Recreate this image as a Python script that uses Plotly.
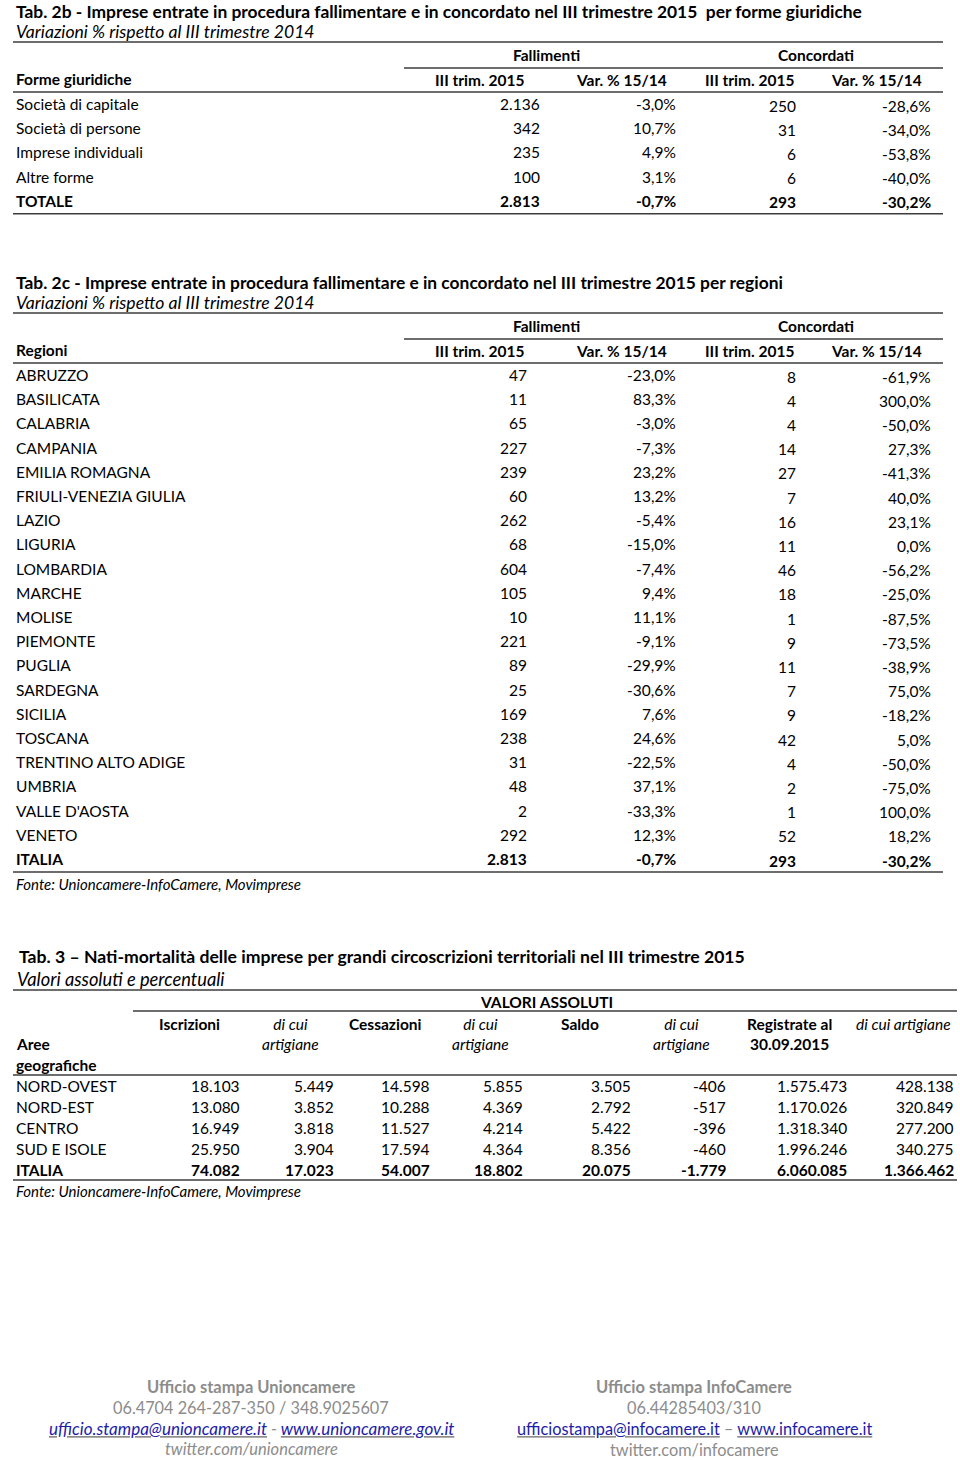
import plotly.graph_objects as go

# ---------------- DATA ----------------
# Tab. 2b
forme = ["Società di capitale", "Società di persone", "Imprese individuali", "Altre forme", "TOTALE"]
forme_fall = [2136, 342, 235, 100, 2813]
forme_fall_var = [-3.0, 10.7, 4.9, 3.1, -0.7]
forme_conc = [250, 31, 6, 6, 293]
forme_conc_var = [-28.6, -34.0, -53.8, -40.0, -30.2]

# Tab. 2c
regioni = ["ABRUZZO", "BASILICATA", "CALABRIA", "CAMPANIA", "EMILIA ROMAGNA",
           "FRIULI-VENEZIA GIULIA", "LAZIO", "LIGURIA", "LOMBARDIA", "MARCHE",
           "MOLISE", "PIEMONTE", "PUGLIA", "SARDEGNA", "SICILIA", "TOSCANA",
           "TRENTINO ALTO ADIGE", "UMBRIA", "VALLE D'AOSTA", "VENETO", "ITALIA"]
reg_fall = [47, 11, 65, 227, 239, 60, 262, 68, 604, 105, 10, 221, 89, 25, 169, 238, 31, 48, 2, 292, 2813]
reg_fall_var = [-23.0, 83.3, -3.0, -7.3, 23.2, 13.2, -5.4, -15.0, -7.4, 9.4, 11.1, -9.1,
                -29.9, -30.6, 7.6, 24.6, -22.5, 37.1, -33.3, 12.3, -0.7]
reg_conc = [8, 4, 4, 14, 27, 7, 16, 11, 46, 18, 1, 9, 11, 7, 9, 42, 4, 2, 1, 52, 293]
reg_conc_var = [-61.9, 300.0, -50.0, 27.3, -41.3, 40.0, 23.1, 0.0, -56.2, -25.0, -87.5, -73.5,
                -38.9, 75.0, -18.2, 5.0, -50.0, -75.0, 100.0, 18.2, -30.2]

# Tab. 3
aree = ["NORD-OVEST", "NORD-EST", "CENTRO", "SUD E ISOLE", "ITALIA"]
iscrizioni = [18103, 13080, 16949, 25950, 74082]
iscr_art = [5449, 3852, 3818, 3904, 17023]
cessazioni = [14598, 10288, 11527, 17594, 54007]
cess_art = [5855, 4369, 4214, 4364, 18802]
saldo = [3505, 2792, 5422, 8356, 20075]
saldo_art = [-406, -517, -396, -460, -1779]
registrate = [1575473, 1170026, 1318340, 1996246, 6060085]
reg_art = [428138, 320849, 277200, 340275, 1366462]

# Header labels
hdr_fall = "Fallimenti"
hdr_conc = "Concordati"
hdr_cols = ["III trim. 2015", "Var. % 15/14", "III trim. 2015", "Var. % 15/14"]
t3_hdr = ["<b>Iscrizioni</b>", "<i>di cui</i><br><i>artigiane</i>", "<b>Cessazioni</b>",
          "<i>di cui</i><br><i>artigiane</i>", "<b>Saldo</b>", "<i>di cui</i><br><i>artigiane</i>",
          "<b>Registrate al</b><br><b>30.09.2015</b>", "<i>di cui artigiane</i>"]


def fmt_int(v):
    s = f"{abs(v):,}".replace(",", ".")
    return ("-" if v < 0 else "") + s


def fmt_pct(v):
    return f"{v:.1f}".replace(".", ",") + "%"


# ---------------- FIGURE ----------------
FONT = "Lato, Carlito, Calibri, sans-serif"
FS = 15.5
LINE = "#3c3c3c"
GRAY = "#8c8c8c"
LINK = "#1c1ca8"

fig = go.Figure()
ann = []
shapes = []


def txt(x, y, t, anchor="left", bold=False, italic=False, size=FS, color="black"):
    if bold:
        t = f"<b>{t}</b>"
    if italic:
        t = f"<i>{t}</i>"
    ann.append(dict(x=x, y=y, xref="x", yref="y", text=t, showarrow=False,
                    xanchor=anchor, yanchor="middle", align=anchor if anchor != "center" else "center",
                    font=dict(family=FONT, size=size, color=color)))


def hline(x0, x1, y, w=1.5):
    shapes.append(dict(type="line", xref="x", yref="y", x0=x0, x1=x1, y0=y, y1=y,
                       line=dict(color=LINE, width=w)))


def fall_conc_table(top, title, label, names, f, fv, c, cv, right_fall, source=False):
    txt(14, top - 0.5, title, bold=True, size=17.4)
    txt(14, top + 19.5, "Variazioni % rispetto al III trimestre 2014", italic=True, size=17.6)
    hline(13, 943, top + 30)
    txt(546, top + 43, hdr_fall, anchor="center", bold=True)
    txt(816, top + 43, hdr_conc, anchor="center", bold=True)
    hline(404, 943, top + 56)
    txt(14, top + 67, label, bold=True)
    for cx, h in zip([479, 621, 749, 876], hdr_cols):
        txt(cx, top + 68, h, anchor="center", bold=True)
    hline(13, 943, top + 80)
    y0 = top + 92
    step = 24.2
    n = len(names)
    for i in range(n):
        y = y0 + i * step
        b = (i == n - 1)
        txt(14, y, names[i], bold=b)
        txt(right_fall, y, fmt_int(f[i]), anchor="right", bold=b)
        txt(678, y, fmt_pct(fv[i]), anchor="right", bold=b)
        txt(798, y + 1.5, fmt_int(c[i]), anchor="right", bold=b)
        txt(933, y + 1.5, fmt_pct(cv[i]), anchor="right", bold=b)
    yb = y0 + (n - 1) * step + 13
    hline(13, 943, yb)
    if source:
        txt(14, yb + 12, "Fonte: Unioncamere-InfoCamere, Movimprese", italic=True, size=15)


fall_conc_table(12, "Tab. 2b - Imprese entrate in procedura fallimentare e in concordato nel III trimestre 2015  per forme giuridiche",
                "Forme giuridiche", forme, forme_fall, forme_fall_var, forme_conc, forme_conc_var, 542)
fall_conc_table(283, "Tab. 2c - Imprese entrate in procedura fallimentare e in concordato nel III trimestre 2015 per regioni",
                "Regioni", regioni, reg_fall, reg_fall_var, reg_conc, reg_conc_var, 529, source=True)

# ---- Tab. 3 ----
t3_top = 956
txt(17, t3_top, "Tab. 3 – Nati-mortalità delle imprese per grandi circoscrizioni territoriali nel III trimestre 2015",
    bold=True, size=17.6)
txt(15, t3_top + 23, "Valori assoluti e percentuali", italic=True, size=18.3)
hline(13, 957, t3_top + 34)
txt(546, t3_top + 46, "VALORI ASSOLUTI", anchor="center", bold=True)
hline(133, 957, t3_top + 55)
hdr_cx = [189, 290, 385, 480, 580, 681, 789, 903]
for cx, h in zip(hdr_cx, t3_hdr):
    ann.append(dict(x=cx, y=t3_top + 57, xref="x", yref="y", text=h, showarrow=False,
                    xanchor="center", yanchor="top", align="center",
                    font=dict(family=FONT, size=FS, color="black")))
txt(14, t3_top + 88, "Aree", bold=True)
txt(14, t3_top + 109, "geografiche", bold=True)
hline(13, 957, t3_top + 119)
cols3 = [iscrizioni, iscr_art, cessazioni, cess_art, saldo, saldo_art, registrate, reg_art]
rights3 = [242, 336, 432, 525, 633, 728, 849, 956]
ry0 = t3_top + 130
rstep = 21
for i, a in enumerate(aree):
    y = ry0 + i * rstep
    b = (i == len(aree) - 1)
    txt(14, y, a, bold=b)
    for col, rx in zip(cols3, rights3):
        txt(rx, y, fmt_int(col[i]), anchor="right", bold=b)
yb3 = ry0 + (len(aree) - 1) * rstep + 10
hline(13, 957, yb3)
txt(14, yb3 + 11, "Fonte: Unioncamere-InfoCamere, Movimprese", italic=True, size=15)

# ---- Footer ----
fy = 1387
txt(251, fy, "Ufficio stampa Unioncamere", anchor="center", bold=True, color=GRAY, size=16.5)
txt(251, fy + 20.5, "06.4704 264-287-350 / 348.9025607", anchor="center", color=GRAY, size=16.3)
txt(251, fy + 41, f"<i><u><span style='color:{LINK}'>ufficio.stampa@unioncamere.it</span></u> - "
                  f"<u><span style='color:{LINK}'>www.unioncamere.gov.it</span></u></i>",
    anchor="center", color=GRAY, size=17)
txt(251, fy + 62, "twitter.com/unioncamere", anchor="center", italic=True, color=GRAY, size=16.5)

txt(694, fy, "Ufficio stampa InfoCamere", anchor="center", bold=True, color=GRAY, size=16.5)
txt(694, fy + 20.5, "06.44285403/310", anchor="center", color=GRAY, size=16.3)
txt(694, fy + 41, f"<u><span style='color:{LINK}'>ufficiostampa@infocamere.it</span></u> – "
                  f"<u><span style='color:{LINK}'>www.infocamere.it</span></u>",
    anchor="center", color=GRAY, size=16.3)
txt(694, fy + 62, "twitter.com/infocamere", anchor="center", color=GRAY, size=16.3)

fig.update_layout(
    width=960, height=1460,
    margin=dict(l=0, r=0, t=0, b=0),
    paper_bgcolor="white", plot_bgcolor="white",
    xaxis=dict(range=[0, 960], visible=False, fixedrange=True),
    yaxis=dict(range=[1460, 0], visible=False, fixedrange=True),
    annotations=ann, shapes=shapes, showlegend=False,
)
fig.write_html("out.html", config={"displayModeBar": False},
               post_script="document.body.style.margin='0px';document.body.style.overflow='hidden';")
